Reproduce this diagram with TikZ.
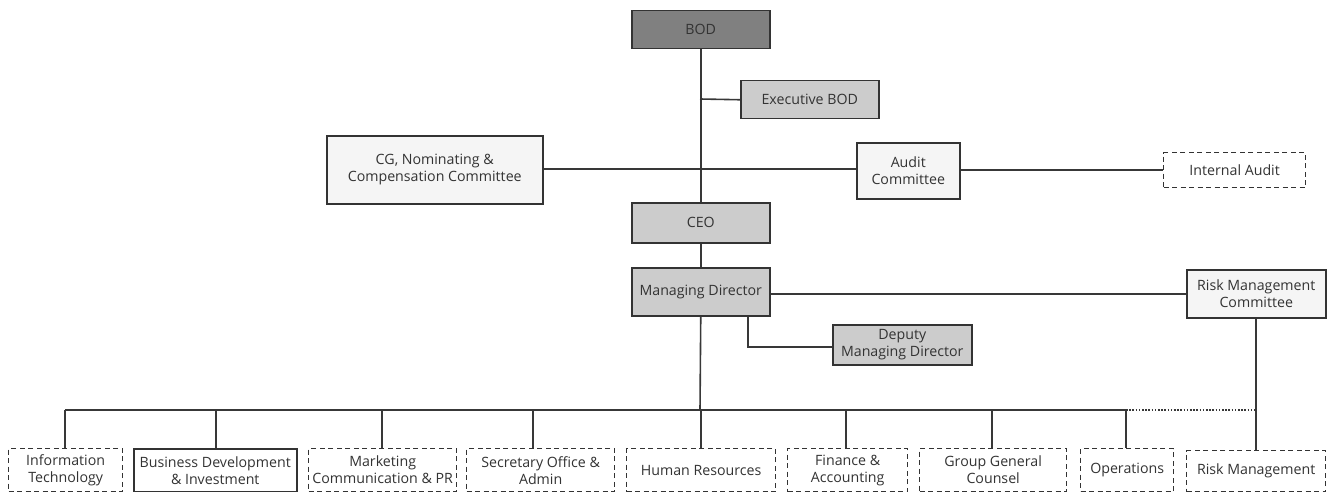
\documentclass[tikz,border=0pt]{standalone}
\usepackage{fontspec}
\setmainfont{Open Sans}
\begin{document}
\begin{tikzpicture}[x=1pt,y=-1pt,
  box/.style={draw=black!80,line width=1.5pt,inner sep=0pt,anchor=north west,align=center,
    font=\fontsize{14.2}{17}\selectfont,text=black!80},
  dark/.style={box,fill=black!50},
  mid/.style={box,fill=black!20},
  light/.style={box,fill=black!4},
  dbox/.style={box,dashed,dash pattern=on 5pt off 3.5pt,line width=1.3pt,fill=white},
  conn/.style={draw=black!78,line width=1.6pt},
  dconn/.style={conn,dash pattern=on 1.6pt off 1.6pt}]
\useasboundingbox (0,0) rectangle (1335,492);
\newcommand{\mybox}[7]{\node[#1,minimum width={#4-#2},minimum height={#5-#3}] (#6) at (#2,#3) {#7};}
\mybox{dark}{631}{10}{769}{48}{bod}{BOD}
\mybox{mid}{740}{80}{878}{118}{exec}{Executive BOD}
\mybox{light}{326}{135}{542}{203}{cg}{CG, Nominating \&\\Compensation Committee}
\mybox{light}{856}{142}{959}{198}{audit}{Audit\\Committee}
\mybox{dbox}{1163}{152}{1305}{187}{ia}{Internal Audit}
\mybox{mid}{631}{202}{769}{242}{ceo}{CEO}
\mybox{mid}{631}{267}{769}{315}{md}{Managing Director}
\mybox{light}{1186}{269}{1325}{317}{rmc}{Risk Management\\Committee}
\mybox{mid}{832}{324}{971}{364}{dmd}{Deputy\\Managing Director}
\mybox{dbox}{8}{448}{122}{491}{it}{Information\\Technology}
\mybox{box}{133}{448}{296}{491}{bd}{Business Development\\\& Investment}
\mybox{dbox}{308}{448}{456}{491}{mk}{Marketing\\Communication \& PR}
\mybox{dbox}{466}{448}{614}{491}{so}{Secretary Office \&\\Admin}
\mybox{dbox}{626}{448}{775}{491}{hr}{Human Resources}
\mybox{dbox}{787}{448}{907}{491}{fa}{Finance \&\\Accounting}
\mybox{dbox}{919}{448}{1066}{491}{gc}{Group General\\Counsel}
\mybox{dbox}{1080}{448}{1173}{491}{op}{Operations}
\mybox{dbox}{1186}{450}{1325}{491}{rm}{Risk Management}
\coordinate (bus) at (700,410);
\coordinate (tcg) at (700,169);
\coordinate (texec) at (700,99);
\coordinate (dk) at (748,347);
\coordinate (rmx) at (1256,410);
\draw[conn] (bod.south) -- (ceo.north);
\draw[conn] (texec) -- (exec.west);
\draw[conn] (cg.east |- tcg) -- (audit.west |- tcg);
\draw[conn] (audit.east |- ia.west) -- (ia.west);
\draw[conn] (ceo.south) -- (md.north);
\draw[conn] (md.south) -- (bus);
\draw[conn] (md.east |- rmc.west) -- (rmc.west);
\draw[conn] (dk |- md.south) -- (dk) -- (dmd.west |- dk);
\foreach \n/\x in {it/65,bd/216,mk/382,so/533,hr/701,fa/846,gc/992,op/1126}{
  \coordinate (\n t) at (\x,410);
  \draw[conn] (\n t) -- (\n t |- \n.north);}
\draw[conn] (itt) -- (opt);
\draw[dconn] (opt) -- (rmx);
\draw[conn] (rmc.south -| rmx) -- (rm.north -| rmx);
\end{tikzpicture}
\end{document}
